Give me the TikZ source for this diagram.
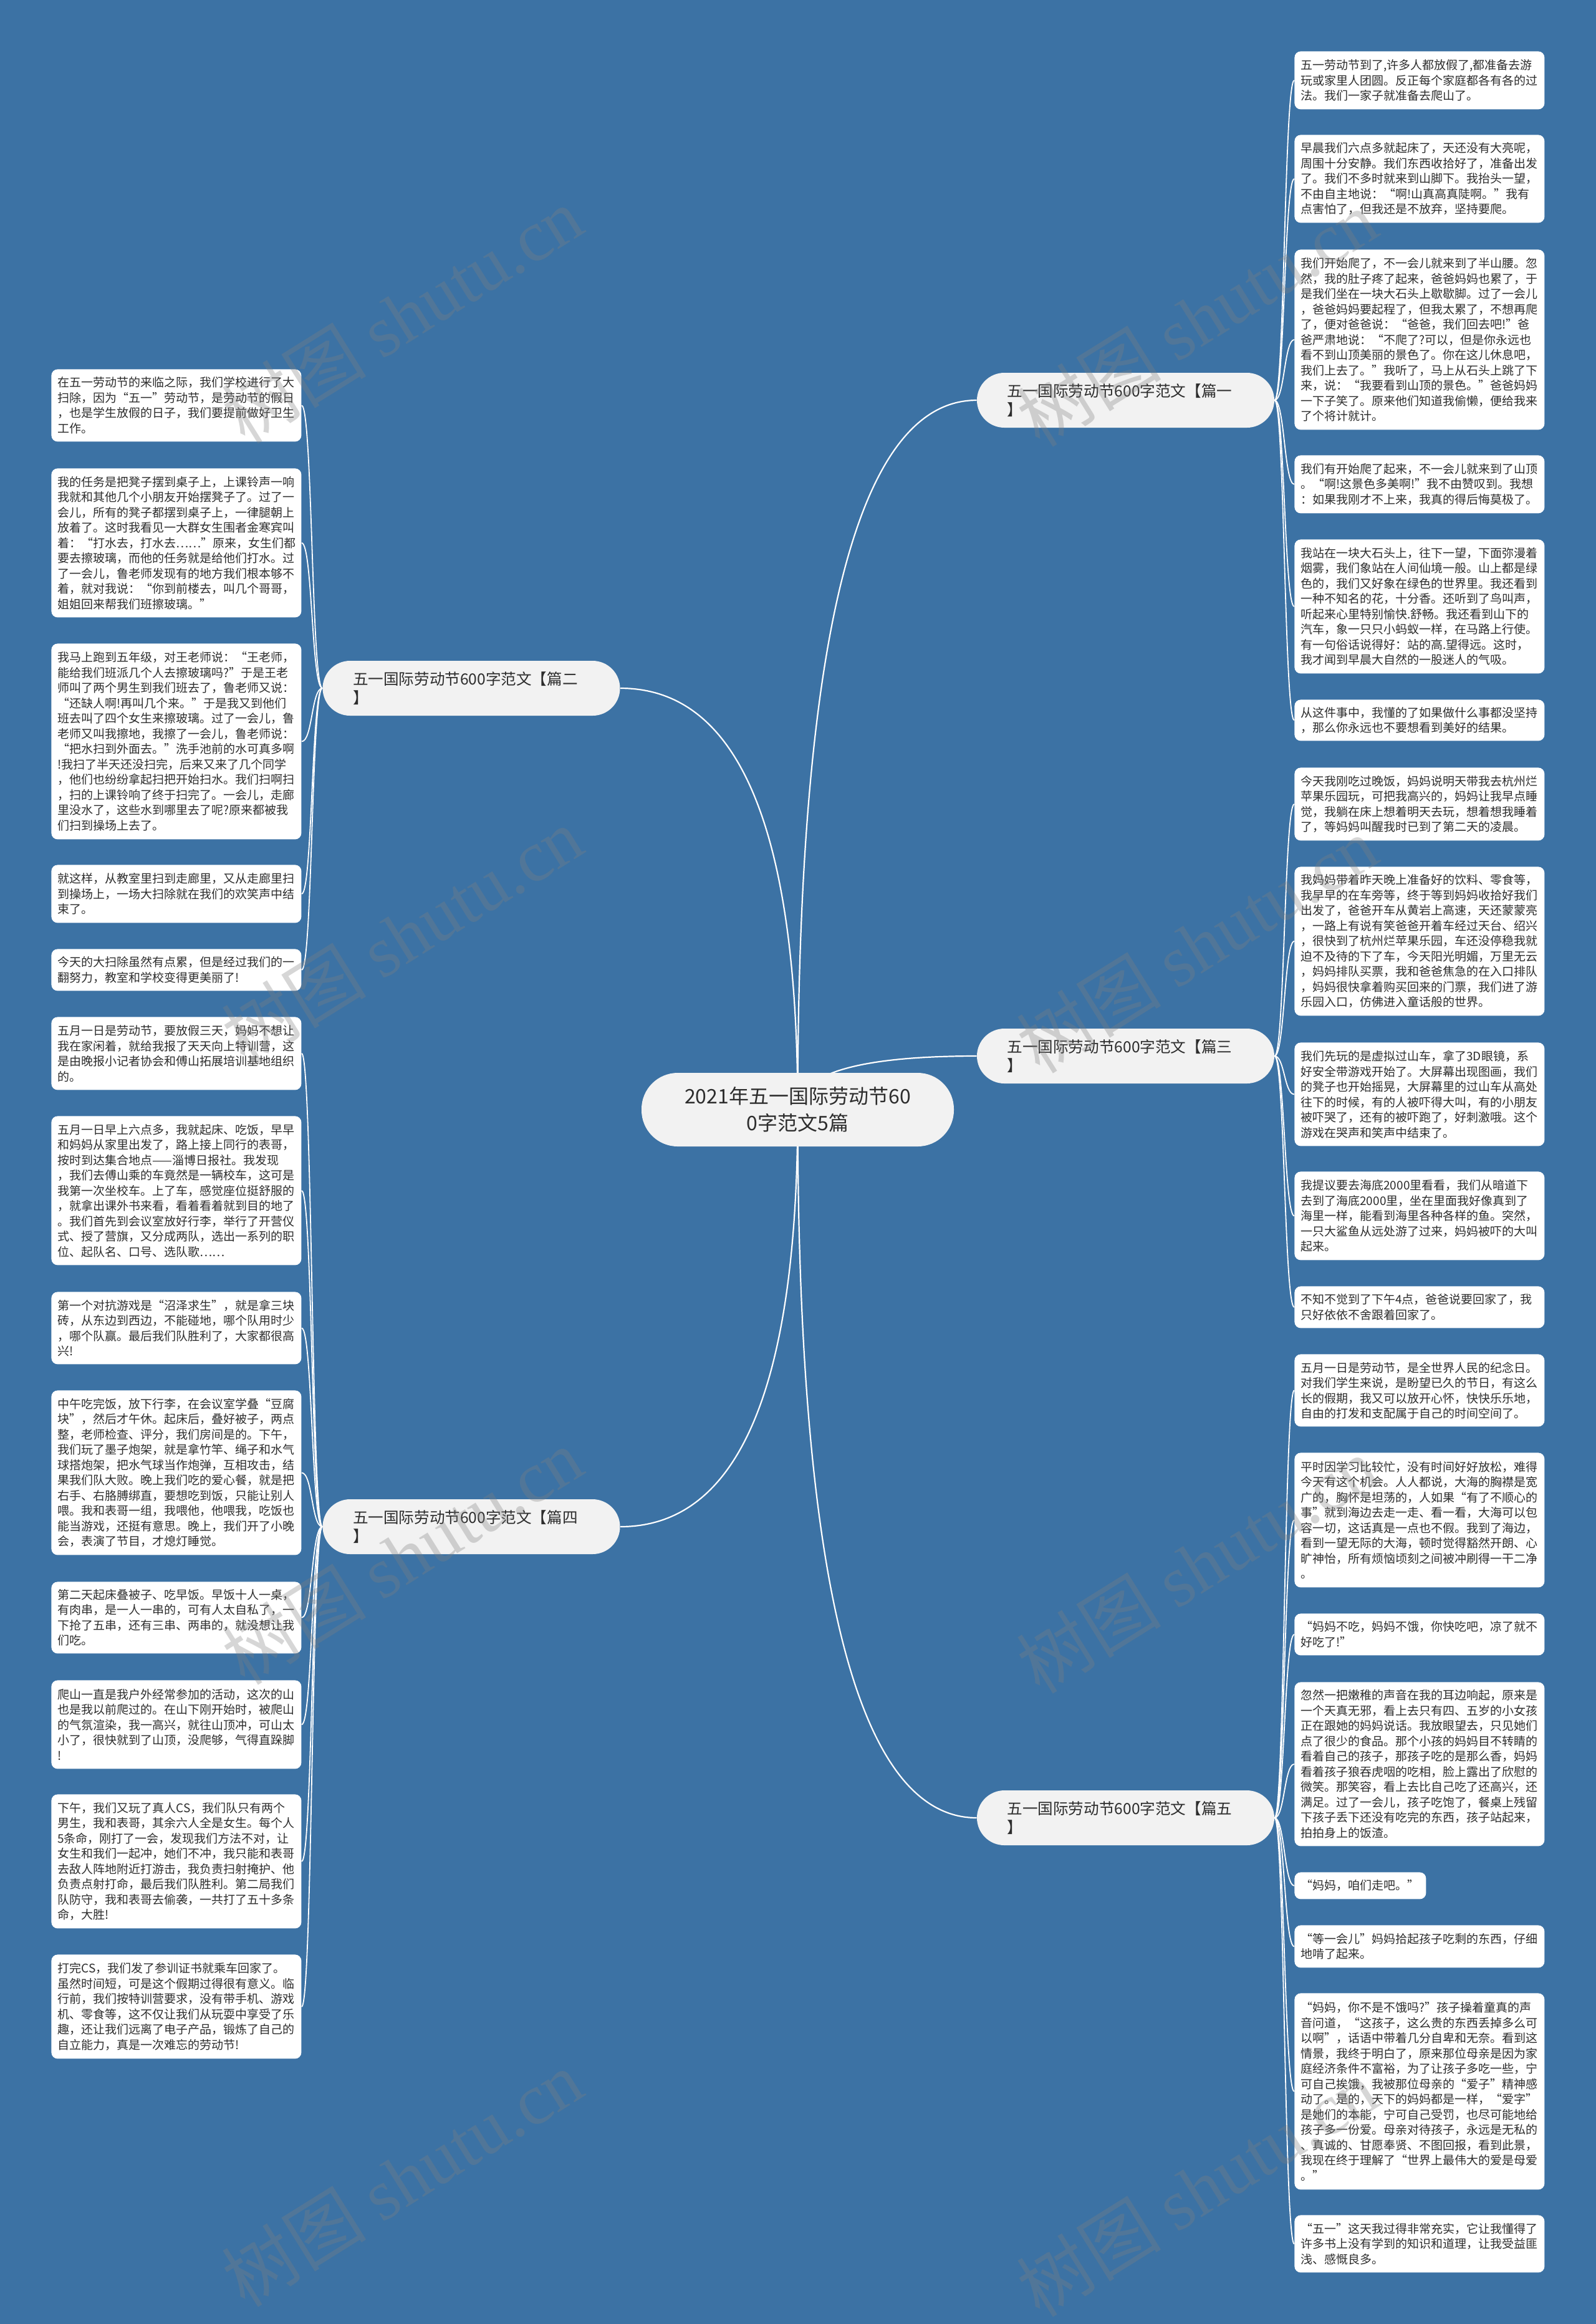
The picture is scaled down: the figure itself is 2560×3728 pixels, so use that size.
\documentclass[tikz,border=0pt]{standalone}
\usepackage{fontspec}
\setmainfont{Noto Sans CJK SC}
\newfontfamily\wmlatin{Liberation Serif}
\usetikzlibrary{calc}
\definecolor{bgblue}{RGB}{60,114,164}
\definecolor{txt}{RGB}{45,45,45}
\definecolor{pill}{RGB}{242,242,242}
\pgfdeclarelayer{bg}
\pgfsetlayers{bg,main}
\begin{document}
\begin{tikzpicture}[x=0.5pt,y=-0.5pt,
  leaf/.style={fill=white, rounded corners=5pt, anchor=north west, align=left,
    text width=190.5pt, inner xsep=5pt, inner ysep=1pt, text=txt,
    font=\fontsize{9.5pt}{12.25pt}\selectfont},
  branch/.style={fill=pill, rounded corners=22pt, minimum height=44pt,
    text width=190pt, inner xsep=24.25pt, inner ysep=1pt, align=left, text=txt,
    font=\fontsize{12.3pt}{15pt}\selectfont},
  centre/.style={fill=pill, rounded corners=29pt, minimum height=59pt,
    text width=220pt, inner xsep=15.25pt, inner ysep=1pt, align=center, text=txt,
    font=\fontsize{16pt}{21.5pt}\selectfont},
  hubline/.style={draw=white, line width=1.1pt},
  leafline/.style={draw=white, line width=0.9pt},
  wm/.style={text=gray, text opacity=0.32, rotate=32, font=\fontsize{58pt}{58pt}\selectfont}
]
\useasboundingbox (0,0) rectangle (2560,3728);

% centre and branches
\node[centre] (c) at (1279.5,1780) {2021年五一国际劳动节60\\0字范文5篇};
\node[branch] (b1) at (1805.5,642) {五一国际劳动节600字范文【篇一\\】};
\node[branch] (b3) at (1805.5,1694) {五一国际劳动节600字范文【篇三\\】};
\node[branch] (b5) at (1805.5,2916) {五一国际劳动节600字范文【篇五\\】};
\node[branch] (b2) at (756,1104) {五一国际劳动节600字范文【篇二\\】};
\node[branch] (b4) at (756,2449) {五一国际劳动节600字范文【篇四\\】};

% left leaves
\node[leaf, minimum height=58pt] (l1) at (82,592) {在五一劳动节的来临之际，我们学校进行了大\\扫除，因为“五一”劳动节，是劳动节的假日\\，也是学生放假的日子，我们要提前做好卫生\\工作。};
\node[leaf, minimum height=119.5pt] (l2) at (82,751) {我的任务是把凳子摆到桌子上，上课铃声一响\\我就和其他几个小朋友开始摆凳子了。过了一\\会儿，所有的凳子都摆到桌子上，一律腿朝上\\放着了。这时我看见一大群女生围者金寒宾叫\\着：“打水去，打水去……”原来，女生们都\\要去擦玻璃，而他的任务就是给他们打水。过\\了一会儿，鲁老师发现有的地方我们根本够不\\着，就对我说：“你到前楼去，叫几个哥哥，\\姐姐回来帮我们班擦玻璃。”};
\node[leaf, minimum height=157pt] (l3) at (82,1032) {我马上跑到五年级，对王老师说：“王老师，\\能给我们班派几个人去擦玻璃吗?”于是王老\\师叫了两个男生到我们班去了，鲁老师又说：\\“还缺人啊!再叫几个来。”于是我又到他们\\班去叫了四个女生来擦玻璃。过了一会儿，鲁\\老师又叫我擦地，我擦了一会儿，鲁老师说：\\“把水扫到外面去。”洗手池前的水可真多啊\\!我扫了半天还没扫完，后来又来了几个同学\\，他们也纷纷拿起扫把开始扫水。我们扫啊扫\\，扫的上课铃响了终于扫完了。一会儿，走廊\\里没水了，这些水到哪里去了呢?原来都被我\\们扫到操场上去了。};
\node[leaf, minimum height=46.5pt] (l4) at (82,1387) {就这样，从教室里扫到走廊里，又从走廊里扫\\到操场上，一场大扫除就在我们的欢笑声中结\\束了。};
\node[leaf, minimum height=33.5pt] (l5) at (82,1522) {今天的大扫除虽然有点累，但是经过我们的一\\翻努力，教室和学校变得更美丽了!};
\node[leaf, minimum height=58.5pt] (l6) at (82,1631) {五月一日是劳动节，要放假三天，妈妈不想让\\我在家闲着，就给我报了天天向上特训营，这\\是由晚报小记者协会和傅山拓展培训基地组织\\的。};
\node[leaf, minimum height=119.5pt] (l7) at (82,1790) {五月一日早上六点多，我就起床、吃饭，早早\\和妈妈从家里出发了，路上接上同行的表哥，\\按时到达集合地点——淄博日报社。我发现\\，我们去傅山乘的车竟然是一辆校车，这可是\\我第一次坐校车。上了车，感觉座位挺舒服的\\，就拿出课外书来看，看着看着就到目的地了\\。我们首先到会议室放好行李，举行了开营仪\\式、授了营旗，又分成两队，选出一系列的职\\位、起队名、口号、选队歌……};
\node[leaf, minimum height=58pt] (l8) at (82,2072) {第一个对抗游戏是“沼泽求生”，就是拿三块\\砖，从东边到西边，不能碰地，哪个队用时少\\，哪个队赢。最后我们队胜利了，大家都很高\\兴!};
\node[leaf, minimum height=132pt] (l9) at (82,2230) {中午吃完饭，放下行李，在会议室学叠“豆腐\\块”，然后才午休。起床后，叠好被子，两点\\整，老师检查、评分，我们房间是的。下午，\\我们玩了墨子炮架，就是拿竹竿、绳子和水气\\球搭炮架，把水气球当作炮弹，互相攻击，结\\果我们队大败。晚上我们吃的爱心餐，就是把\\右手、右胳膊绑直，要想吃到饭，只能让别人\\喂。我和表哥一组，我喂他，他喂我，吃饭也\\能当游戏，还挺有意思。晚上，我们开了小晚\\会，表演了节目，才熄灯睡觉。};
\node[leaf, minimum height=57.5pt] (l10) at (82,2537) {第二天起床叠被子、吃早饭。早饭十人一桌，\\有肉串，是一人一串的，可有人太自私了，一\\下抢了五串，还有三串、两串的，就没想让我\\们吃。};
\node[leaf, minimum height=71pt] (l11) at (82,2695) {爬山一直是我户外经常参加的活动，这次的山\\也是我以前爬过的。在山下刚开始时，被爬山\\的气氛渲染，我一高兴，就往山顶冲，可山太\\小了，很快就到了山顶，没爬够，气得直跺脚\\!};
\node[leaf, minimum height=107.5pt] (l12) at (82,2878) {下午，我们又玩了真人CS，我们队只有两个\\男生，我和表哥，其余六人全是女生。每个人\\5条命，刚打了一会，发现我们方法不对，让\\女生和我们一起冲，她们不冲，我只能和表哥\\去敌人阵地附近打游击，我负责扫射掩护、他\\负责点射打命，最后我们队胜利。第二局我们\\队防守，我和表哥去偷袭，一共打了五十多条\\命，大胜!};
\node[leaf, minimum height=83.5pt] (l13) at (82,3135) {打完CS，我们发了参训证书就乘车回家了。\\虽然时间短，可是这个假期过得很有意义。临\\行前，我们按特训营要求，没有带手机、游戏\\机、零食等，这不仅让我们从玩耍中享受了乐\\趣，还让我们远离了电子产品，锻炼了自己的\\自立能力，真是一次难忘的劳动节!};

% right leaves
\node[leaf, minimum height=46.5pt] (r1) at (2076,82) {五一劳动节到了,许多人都放假了,都准备去游\\玩或家里人团圆。反正每个家庭都各有各的过\\法。我们一家子就准备去爬山了。};
\node[leaf, minimum height=70.5pt] (r2) at (2076,216) {早晨我们六点多就起床了，天还没有大亮呢，\\周围十分安静。我们东西收拾好了，准备出发\\了。我们不多时就来到山脚下。我抬头一望，\\不由自主地说：“啊!山真高真陡啊。”我有\\点害怕了，但我还是不放弃，坚持要爬。};
\node[leaf, minimum height=144.5pt] (r3) at (2076,400) {我们开始爬了，不一会儿就来到了半山腰。忽\\然，我的肚子疼了起来，爸爸妈妈也累了，于\\是我们坐在一块大石头上歇歇脚。过了一会儿\\，爸爸妈妈要起程了，但我太累了，不想再爬\\了，便对爸爸说：“爸爸，我们回去吧!”爸\\爸严肃地说：“不爬了?可以，但是你永远也\\看不到山顶美丽的景色了。你在这儿休息吧，\\我们上去了。”我听了，马上从石头上跳了下\\来，说：“我要看到山顶的景色。”爸爸妈妈\\一下子笑了。原来他们知道我偷懒，便给我来\\了个将计就计。};
\node[leaf, minimum height=46.5pt] (r4) at (2076,730) {我们有开始爬了起来，不一会儿就来到了山顶\\。“啊!这景色多美啊!”我不由赞叹到。我想\\：如果我刚才不上来，我真的得后悔莫极了。};
\node[leaf, minimum height=107.5pt] (r5) at (2076,865) {我站在一块大石头上，往下一望，下面弥漫着\\烟雾，我们象站在人间仙境一般。山上都是绿\\色的，我们又好象在绿色的世界里。我还看到\\一种不知名的花，十分香。还听到了鸟叫声，\\听起来心里特别愉快.舒畅。我还看到山下的\\汽车，象一只只小蚂蚁一样，在马路上行使。\\有一句俗话说得好：站的高.望得远。这时，\\我才闻到早晨大自然的一股迷人的气吸。};
\node[leaf, minimum height=33pt] (r6) at (2076,1122) {从这件事中，我懂的了如果做什么事都没坚持\\，那么你永远也不要想看到美好的结果。};
\node[leaf, minimum height=58.5pt] (r7) at (2076,1231) {今天我刚吃过晚饭，妈妈说明天带我去杭州烂\\苹果乐园玩，可把我高兴的，妈妈让我早点睡\\觉，我躺在床上想着明天去玩，想着想我睡着\\了，等妈妈叫醒我时已到了第二天的凌晨。};
\node[leaf, minimum height=119.5pt] (r8) at (2076,1390) {我妈妈带着昨天晚上准备好的饮料、零食等，\\我早早的在车旁等，终于等到妈妈收拾好我们\\出发了，爸爸开车从黄岩上高速，天还蒙蒙亮\\，一路上有说有笑爸爸开着车经过天台、绍兴\\，很快到了杭州烂苹果乐园，车还没停稳我就\\迫不及待的下了车，今天阳光明媚，万里无云\\，妈妈排队买票，我和爸爸焦急的在入口排队\\，妈妈很快拿着购买回来的门票，我们进了游\\乐园入口，仿佛进入童话般的世界。};
\node[leaf, minimum height=83pt] (r9) at (2076,1672) {我们先玩的是虚拟过山车，拿了3D眼镜，系\\好安全带游戏开始了。大屏幕出现图画，我们\\的凳子也开始摇晃，大屏幕里的过山车从高处\\往下的时候，有的人被吓得大叫，有的小朋友\\被吓哭了，还有的被吓跑了，好刺激哦。这个\\游戏在哭声和笑声中结束了。};
\node[leaf, minimum height=71pt] (r10) at (2076,1879) {我提议要去海底2000里看看，我们从暗道下\\去到了海底2000里，坐在里面我好像真到了\\海里一样，能看到海里各种各样的鱼。突然，\\一只大鲨鱼从远处游了过来，妈妈被吓的大叫\\起来。};
\node[leaf, minimum height=33.5pt] (r11) at (2076,2063) {不知不觉到了下午4点，爸爸说要回家了，我\\只好依依不舍跟着回家了。};
\node[leaf, minimum height=58pt] (r12) at (2076,2172) {五月一日是劳动节，是全世界人民的纪念日。\\对我们学生来说，是盼望已久的节日，有这么\\长的假期，我又可以放开心怀，快快乐乐地，\\自由的打发和支配属于自己的时间空间了。};
\node[leaf, minimum height=108pt] (r13) at (2076,2330) {平时因学习比较忙，没有时间好好放松，难得\\今天有这个机会。人人都说，大海的胸襟是宽\\广的，胸怀是坦荡的，人如果“有了不顺心的\\事”就到海边去走一走、看一看，大海可以包\\容一切，这话真是一点也不假。我到了海边，\\看到一望无际的大海，顿时觉得豁然开朗、心\\旷神怡，所有烦恼顷刻之间被冲刷得一干二净\\。};
\node[leaf, minimum height=33.5pt] (r14) at (2076,2588) {“妈妈不吃，妈妈不饿，你快吃吧，凉了就不\\好吃了!”};
\node[leaf, minimum height=131.5pt] (r15) at (2076,2698) {忽然一把嫩稚的声音在我的耳边响起，原来是\\一个天真无邪，看上去只有四、五岁的小女孩\\正在跟她的妈妈说话。我放眼望去，只见她们\\点了很少的食品。那个小孩的妈妈目不转睛的\\看着自己的孩子，那孩子吃的是那么香，妈妈\\看着孩子狼吞虎咽的吃相，脸上露出了欣慰的\\微笑。那笑容，看上去比自己吃了还高兴，还\\满足。过了一会儿，孩子吃饱了，餐桌上残留\\下孩子丢下还没有吃完的东西，孩子站起来，\\拍拍身上的饭渣。};
\node[leaf, minimum height=21.5pt, text width=95.5pt] (r16) at (2076,3003) {“妈妈，咱们走吧。”};
\node[leaf, minimum height=34pt] (r17) at (2076,3088) {“等一会儿”妈妈拾起孩子吃剩的东西，仔细\\地啃了起来。};
\node[leaf, minimum height=157.5pt] (r18) at (2076,3197) {“妈妈，你不是不饿吗?”孩子操着童真的声\\音问道，“这孩子，这么贵的东西丢掉多么可\\以啊”，话语中带着几分自卑和无奈。看到这\\情景，我终于明白了，原来那位母亲是因为家\\庭经济条件不富裕，为了让孩子多吃一些，宁\\可自己挨饿，我被那位母亲的“爱子”精神感\\动了。是的，天下的妈妈都是一样，“爱字”\\是她们的本能，宁可自己受罚，也尽可能地给\\孩子多一份爱。母亲对待孩子，永远是无私的\\、真诚的、甘愿奉贤、不图回报，看到此景，\\我现在终于理解了“世界上最伟大的爱是母爱\\。”};
\node[leaf, minimum height=46pt] (r19) at (2076,3553) {“五一”这天我过得非常充实，它让我懂得了\\许多书上没有学到的知识和道理，让我受益匪\\浅、感慨良多。};

\begin{pgfonlayer}{bg}
\fill[bgblue] (0,0) rectangle (2560,3728);
% centre to branches
\foreach \b/\a in {b1/west,b3/west,b5/west,b2/east,b4/east}{
  \draw[hubline] (c.center) .. controls ($(c.center)!0.667!(c.center |- \b.\a)$) and ($(\b.\a)!0.667!(c.center |- \b.\a)$) .. (\b.\a);
}
% branch to right leaves
\foreach \b/\l in {b1/r1,b1/r2,b1/r3,b1/r4,b1/r5,b1/r6,b3/r7,b3/r8,b3/r9,b3/r10,b3/r11,b5/r12,b5/r13,b5/r14,b5/r15,b5/r16,b5/r17,b5/r18,b5/r19}{
  \draw[leafline] (\b.east) .. controls +(16,0) and +(-16,0) .. (\l.west);
}
% branch to left leaves
\foreach \b/\l in {b2/l1,b2/l2,b2/l3,b2/l4,b2/l5,b4/l6,b4/l7,b4/l8,b4/l9,b4/l10,b4/l11,b4/l12,b4/l13}{
  \draw[leafline] (\b.west) .. controls +(-17.5,0) and +(17.5,0) .. (\l.east);
}
\end{pgfonlayer}

% watermarks
\node[wm] (w1) at (645,505) {树图 {\wmlatin shutu.cn}};
\node[wm] (w2) at (1920,510) {树图 {\wmlatin shutu.cn}};
\node[wm] (w3) at (645,1500) {树图 {\wmlatin shutu.cn}};
\node[wm] (w4) at (1920,1515) {树图 {\wmlatin shutu.cn}};
\node[wm] (w5) at (645,2496) {树图 {\wmlatin shutu.cn}};
\node[wm] (w6) at (1920,2510) {树图 {\wmlatin shutu.cn}};
\node[wm] (w7) at (645,3494) {树图 {\wmlatin shutu.cn}};
\node[wm] (w8) at (1920,3510) {树图 {\wmlatin shutu.cn}};
\end{tikzpicture}
\end{document}
